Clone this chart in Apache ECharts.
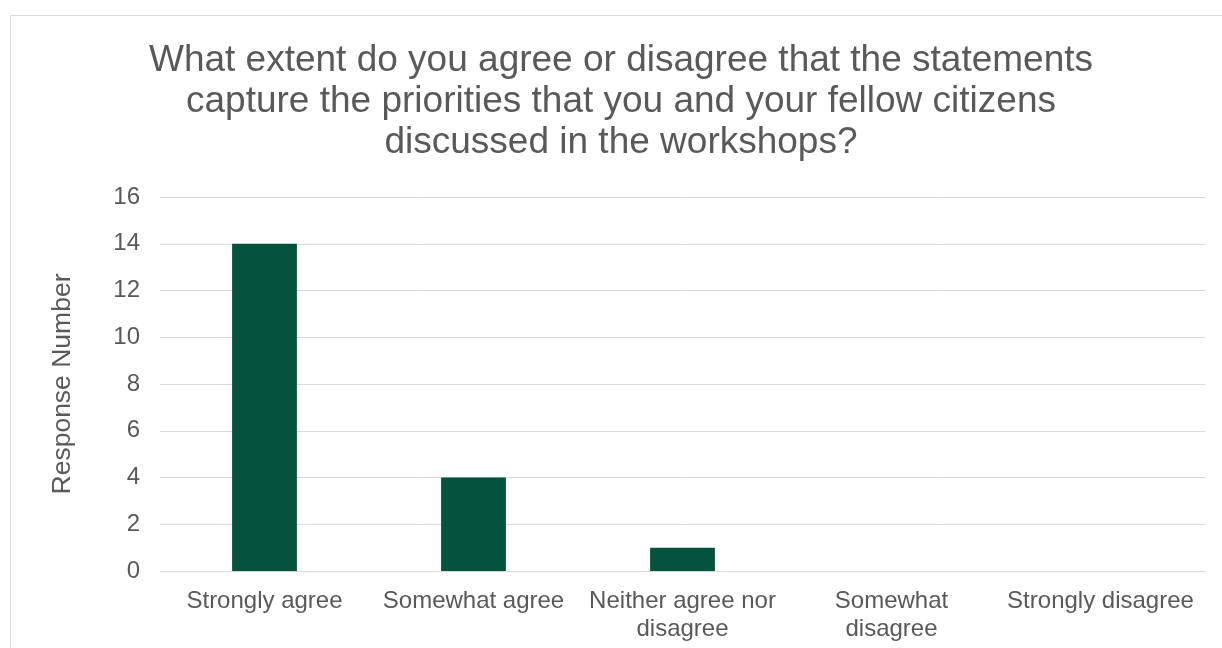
<!DOCTYPE html>
<html>
<head>
<meta charset="utf-8">
<script src="https://cdn.jsdelivr.net/npm/echarts@6/dist/echarts.min.js"></script>
<style>
html,body{margin:0;padding:0;background:#fff;}
#chart{width:1222px;height:648px;}
</style>
</head>
<body>
<div id="chart"></div>
<script>
const titleText = "What extent do you agree or disagree that the statements\ncapture the priorities that you and your fellow citizens\ndiscussed in the workshops?";
const categories = ["Strongly agree", "Somewhat agree", "Neither agree nor\ndisagree", "Somewhat\ndisagree", "Strongly disagree"];
const responses = [14, 4, 1, 0, 0];
const yAxisName = "Response Number";
const yMin = 0, yMax = 16, yStep = 2;

const chart = echarts.init(document.getElementById('chart'), null, {renderer: 'canvas'});
const font = '"Liberation Sans", Arial, sans-serif';
chart.setOption({
  animation: false,
  backgroundColor: '#ffffff',
  graphic: [{
    type: 'rect',
    shape: {x: 10.5, y: 15.5, width: 1240, height: 660},
    style: {fill: 'none', stroke: '#d9d9d9', lineWidth: 1},
    silent: true
  }],
  title: {
    text: titleText,
    left: 616,
    textAlign: 'center',
    top: 35,
    textStyle: {
      fontFamily: font, fontSize: 37, fontWeight: 'normal',
      color: '#595959', lineHeight: 41, align: 'center'
    }
  },
  grid: {left: 160, right: 17, top: 197, bottom: 77},
  xAxis: {
    type: 'category',
    data: categories,
    axisLine: {lineStyle: {color: '#d9d9d9', width: 1}},
    axisTick: {show: false},
    axisLabel: {
      color: '#595959', fontFamily: font, fontSize: 24,
      lineHeight: 28, margin: 16, interval: 0
    }
  },
  yAxis: {
    type: 'value',
    min: yMin, max: yMax, interval: yStep,
    name: yAxisName,
    nameLocation: 'middle',
    nameGap: 84,
    nameTextStyle: {color: '#595959', fontFamily: font, fontSize: 26.5},
    axisLine: {show: false},
    axisTick: {show: false},
    axisLabel: {color: '#595959', fontFamily: font, fontSize: 24, margin: 20},
    splitLine: {lineStyle: {color: '#d9d9d9', width: 1}}
  },
  series: [{
    type: 'bar',
    data: responses,
    barWidth: '31%',
    itemStyle: {color: '#03533f'}
  }]
});
</script>
</body>
</html>
